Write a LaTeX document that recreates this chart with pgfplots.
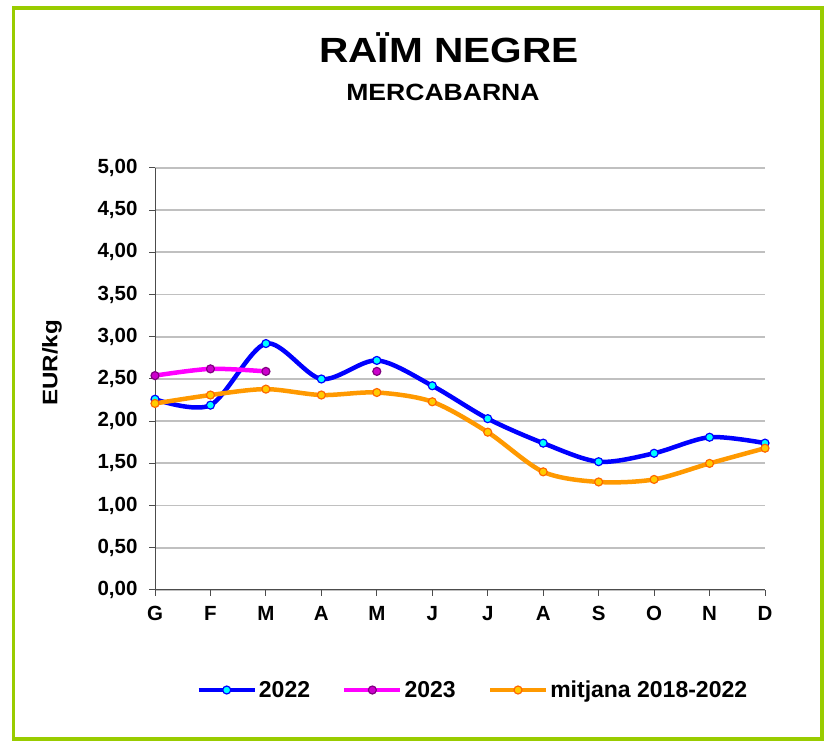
\documentclass[border=0pt]{standalone}
\usepackage{fontspec}
\setmainfont{Liberation Sans}
\usepackage{graphicx}
\usepackage{pgfplots}
\pgfplotsset{compat=1.18}

\definecolor{frameg}{HTML}{99CC00}
\definecolor{gridg}{HTML}{C0C0C0}
\definecolor{c22}{HTML}{0000FF}
\definecolor{c22f}{HTML}{00FFFF}
\definecolor{c23}{HTML}{FF00FF}
\definecolor{c23f}{HTML}{CC00CC}
\definecolor{c23e}{HTML}{800080}
\definecolor{cmit}{HTML}{FF9900}
\definecolor{cmitf}{HTML}{FFCC00}
\definecolor{cmite}{HTML}{FF6600}

\begin{document}
\begin{tikzpicture}[x=1bp,y=1bp]
\useasboundingbox (0,0) rectangle (824,741);
\draw[frameg, line width=3.5bp] (13.5,2) rectangle (822,733);
\node[font=\fontsize{35bp}{38bp}\selectfont\bfseries, anchor=base] at (449,678) {\scalebox{1.16}[1]{RAÏM NEGRE}};
\node[font=\fontsize{23.5bp}{26bp}\selectfont\bfseries, anchor=base] at (443,640) {\scalebox{1.13}[1]{MERCABARNA}};
\node[font=\fontsize{21bp}{24bp}\selectfont\bfseries, rotate=90] at (52,378) {\scalebox{1.15}[1]{EUR/kg}};
\begin{axis}[
    at={(155bp,151bp)}, anchor=south west,
    scale only axis, width=610bp, height=422bp,
    xmin=0, xmax=11, ymin=0, ymax=5,
    xtick={0,...,11},
    xticklabels={G,F,M,A,M,J,J,A,S,O,N,D},
    ytick={0,0.5,...,5},
    axis x line*=bottom, axis y line*=left,
    axis line style={-, line width=1bp, black!70},
    tick style={black!70, line width=1bp},
    tick align=outside, major tick length=6bp,
    ymajorgrids, grid style={gridg, line width=1.8bp},
    /pgf/number format/assume math mode=true,
    /pgf/number format/fixed, /pgf/number format/fixed zerofill,
    /pgf/number format/precision=2, /pgf/number format/use comma,
    ticklabel style={font=\fontsize{20.5bp}{23bp}\selectfont\bfseries},
    xticklabel style={yshift=-7bp},
    yticklabel style={xshift=-8bp},
    clip=false,
    unbounded coords=jump,
    legend columns=3,
    legend style={at={(0.521,-0.237)}, anchor=center, draw=none,
        font=\fontsize{23bp}{26bp}\selectfont\bfseries,
        /tikz/every even column/.append style={column sep=30bp}},
    legend image code/.code={
        \draw[#1, mark repeat=2, mark phase=2] plot coordinates {(0bp,0bp) (28bp,0bp) (56bp,0bp)};
    },
    every axis plot/.append style={line width=4.5bp, smooth, tension=0.5},
]
\addplot[c22, mark=*, mark size=4bp, mark options={fill=c22f, draw=c22, line width=1.2bp}]
  coordinates {(0,2.26) (1,2.19) (2,2.92) (3,2.50) (4,2.72) (5,2.42) (6,2.03) (7,1.74) (8,1.52) (9,1.62) (10,1.81) (11,1.74)};
\addlegendentry{2022}
\addplot[c23, mark=*, mark size=4bp, mark options={fill=c23f, draw=c23e, line width=1.2bp}]
  coordinates {(0,2.54) (1,2.62) (2,2.59) (3,nan) (4,2.59)};
\addlegendentry{2023}
\addplot[cmit, mark=*, mark size=4bp, mark options={fill=cmitf, draw=cmite, line width=1.2bp}]
  coordinates {(0,2.21) (1,2.31) (2,2.38) (3,2.31) (4,2.34) (5,2.23) (6,1.87) (7,1.40) (8,1.28) (9,1.31) (10,1.50) (11,1.68)};
\addlegendentry{mitjana 2018-2022}
\end{axis}
\end{tikzpicture}
\end{document}
